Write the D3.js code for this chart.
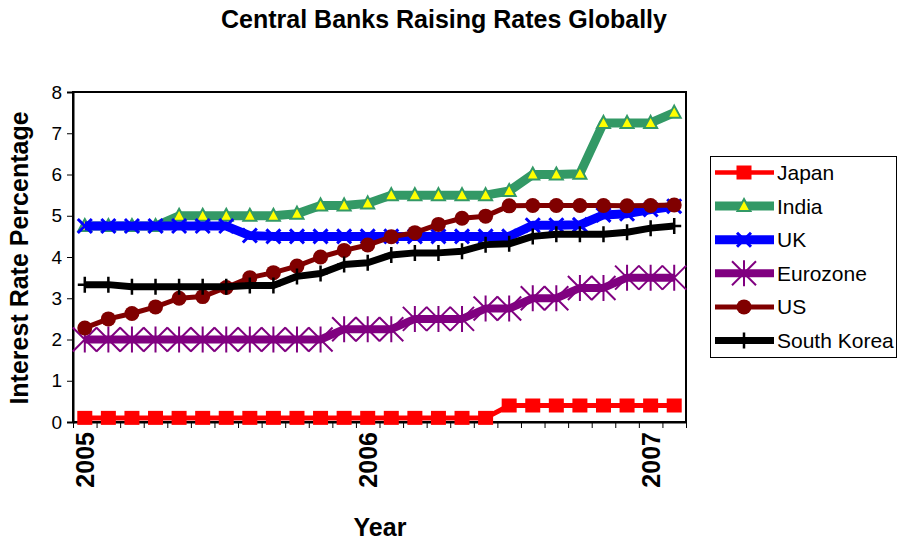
<!DOCTYPE html>
<html>
<head>
<meta charset="utf-8">
<script src="https://cdn.jsdelivr.net/npm/d3@7"></script>
<style>
    body { margin: 0; background: #fff; }
    text { font-family: 'Liberation Sans', Arial, sans-serif; }
</style>
</head>
<body>
<div id="chart"></div>
<script>
// months Jan 2005 .. Feb 2007
let months = d3.range(26);
let yearLabels = [{ idx: 0, label: '2005' }, { idx: 12, label: '2006' }, { idx: 24, label: '2007' }];
let yTicks = [0, 1, 2, 3, 4, 5, 6, 7, 8];

let japan = [0.1, 0.1, 0.1, 0.1, 0.1, 0.1, 0.1, 0.1, 0.1, 0.1, 0.1, 0.1, 0.1, 0.1, 0.1, 0.1, 0.1, 0.1,
    0.4, 0.4, 0.4, 0.4, 0.4, 0.4, 0.4, 0.4];
let india = [4.75, 4.75, 4.75, 4.75, 5.0, 5.0, 5.0, 5.0, 5.0, 5.05, 5.25, 5.25, 5.3, 5.5, 5.5, 5.5, 5.5, 5.5,
    5.6, 6.0, 6.0, 6.02, 7.25, 7.25, 7.25, 7.5];
let uk = [4.75, 4.75, 4.75, 4.75, 4.75, 4.75, 4.75, 4.52, 4.5, 4.5, 4.5, 4.5, 4.5, 4.5, 4.5, 4.5, 4.5, 4.5,
    4.5, 4.77, 4.77, 4.78, 5.02, 5.05, 5.15, 5.23];
let eurozone = [2.0, 2.0, 2.0, 2.0, 2.0, 2.0, 2.0, 2.0, 2.0, 2.0, 2.0, 2.25, 2.25, 2.25, 2.5, 2.5, 2.5, 2.75,
    2.75, 3.0, 3.0, 3.25, 3.25, 3.5, 3.5, 3.5];
let us = [2.28, 2.5, 2.63, 2.79, 3.0, 3.04, 3.26, 3.5, 3.62, 3.78, 4.0, 4.16, 4.29, 4.49, 4.59, 4.79, 4.94,
    4.99, 5.24, 5.25, 5.25, 5.25, 5.25, 5.24, 5.25, 5.26];
let southKorea = [3.33, 3.33, 3.28, 3.28, 3.28, 3.28, 3.28, 3.31, 3.31, 3.53, 3.6, 3.82, 3.86, 4.05, 4.1, 4.1,
    4.14, 4.3, 4.32, 4.5, 4.55, 4.55, 4.55, 4.6, 4.7, 4.75];

let seriesNames = ['Japan', 'India', 'UK', 'Eurozone', 'US', 'South Korea'];
let seriesValues = [japan, india, uk, eurozone, us, southKorea];

// styling per series (line colour/width and which marker)
let styles = {
    'Japan': { color: '#ff0000', width: 5, marker: 'square' },
    'India': { color: '#339966', width: 9, marker: 'triangle' },
    'UK': { color: '#0000ff', width: 9, marker: 'x' },
    'Eurozone': { color: '#800080', width: 8, marker: 'star' },
    'US': { color: '#800000', width: 5, marker: 'circle' },
    'South Korea': { color: '#000000', width: 7, marker: 'plus' }
};

let width = 898;
let height = 542;
let plot = { left: 73, right: 686, top: 92, bottom: 422 };

let svg = d3.select('#chart')
    .append('svg')
    .attr('width', width)
    .attr('height', height);

let x = d3.scaleBand()
    .domain(months)
    .range([plot.left, plot.right])
    .padding(0);

// edge scale, only for the tick marks between months
let xEdge = d3.scaleLinear()
    .domain([0, months.length])
    .range([plot.left, plot.right]);

let y = d3.scaleLinear()
    .domain([0, 8])
    .range([plot.bottom, plot.top]);

let cx = i => x(i) + x.bandwidth() / 2;

// plot frame
svg.append('rect')
    .attr('x', plot.left)
    .attr('y', plot.top)
    .attr('width', plot.right - plot.left)
    .attr('height', plot.bottom - plot.top)
    .attr('fill', 'none')
    .attr('stroke', '#000')
    .attr('stroke-width', 2);

// y axis
let yAxis = svg.append('g')
    .attr('transform', `translate(${plot.left},0)`)
    .call(d3.axisLeft(y).tickValues(yTicks).tickSize(6).tickPadding(5));
yAxis.select('.domain').attr('stroke-width', 2);
yAxis.selectAll('text').style('font-size', '19px').attr('fill', '#000');

// x axis, ticks sit between months
let xAxis = svg.append('g')
    .attr('transform', `translate(0,${plot.bottom})`)
    .call(d3.axisBottom(xEdge).tickValues(d3.range(months.length + 1)).tickFormat('').tickSize(6).tickSizeOuter(0));
xAxis.select('.domain').attr('stroke-width', 2);

svg.selectAll('.year-label')
    .data(yearLabels)
    .enter()
    .append('text')
    .attr('class', 'year-label')
    .text(d => d.label)
    .attr('transform', d => `translate(${cx(d.idx) + 9},${plot.bottom + 10}) rotate(-90)`)
    .attr('text-anchor', 'end')
    .style('font-size', '25px')
    .style('font-weight', 'bold');

// titles
svg.append('text')
    .text('Central Banks Raising Rates Globally')
    .attr('x', 444)
    .attr('y', 28)
    .attr('text-anchor', 'middle')
    .style('font-size', '25px')
    .style('font-weight', 'bold');

svg.append('text')
    .text('Year')
    .attr('x', 380)
    .attr('y', 536)
    .attr('text-anchor', 'middle')
    .style('font-size', '25px')
    .style('font-weight', 'bold');

svg.append('text')
    .text('Interest Rate Percentage')
    .attr('transform', `translate(28,${(plot.top + plot.bottom) / 2 + 1}) rotate(-90)`)
    .attr('text-anchor', 'middle')
    .style('font-size', '25px')
    .style('font-weight', 'bold');

// marker drawing helper
function drawMarker(g, type, color) {
    if (type === 'square') {
        g.append('rect').attr('x', -7.5).attr('y', -7).attr('width', 15).attr('height', 14).attr('fill', color);
    } else if (type === 'triangle') {
        g.append('path').attr('d', 'M0,-7 L6.5,5 L-6.5,5 Z')
            .attr('fill', '#ffff00').attr('stroke', color).attr('stroke-width', 2);
    } else if (type === 'x') {
        g.append('path').attr('d', 'M-7,-7 L7,7 M-7,7 L7,-7')
            .attr('stroke', color).attr('stroke-width', 3);
    } else if (type === 'star') {
        g.append('path').attr('d', 'M-12,-12 L12,12 M-12,12 L12,-12 M0,-13 L0,13')
            .attr('stroke', color).attr('stroke-width', 2);
    } else if (type === 'circle') {
        g.append('circle').attr('r', 7.5).attr('fill', color);
    } else if (type === 'plus') {
        g.append('path').attr('d', 'M0,-8 L0,8 M-7,0 L7,0')
            .attr('stroke', color).attr('stroke-width', 2.5);
    }
}

let line = d3.line()
    .x((d, i) => cx(i))
    .y(d => y(d));

// one group per series, drawn in legend order
seriesNames.forEach((name, s) => {
    let st = styles[name];
    let vals = seriesValues[s];
    let g = svg.append('g').attr('class', 'series');

    g.append('path')
        .datum(vals)
        .attr('d', line)
        .attr('fill', 'none')
        .attr('stroke', st.color)
        .attr('stroke-width', st.width)
        .attr('stroke-linejoin', 'round');

    g.selectAll('.pt')
        .data(vals)
        .enter()
        .append('g')
        .attr('class', 'pt')
        .attr('transform', (d, i) => `translate(${cx(i)},${y(d)})`)
        .each(function () { drawMarker(d3.select(this), st.marker, st.color); });
});

// legend
let legend = svg.append('g');
legend.append('rect')
    .attr('x', 710.5)
    .attr('y', 156.5)
    .attr('width', 186)
    .attr('height', 201)
    .attr('fill', '#fff')
    .attr('stroke', '#000')
    .attr('stroke-width', 1);

seriesNames.forEach((name, i) => {
    let st = styles[name];
    let ly = 172.5 + i * 33.6;
    legend.append('line')
        .attr('x1', 715).attr('x2', 774)
        .attr('y1', ly).attr('y2', ly)
        .attr('stroke', st.color)
        .attr('stroke-width', name === 'Japan' ? 4.5 : st.width);
    drawMarker(legend.append('g').attr('transform', `translate(744,${ly})`), st.marker, st.color);
    legend.append('text')
        .text(name)
        .attr('x', 777)
        .attr('y', ly)
        .attr('dy', '0.36em')
        .style('font-size', '21px');
});
</script>
</body>
</html>
